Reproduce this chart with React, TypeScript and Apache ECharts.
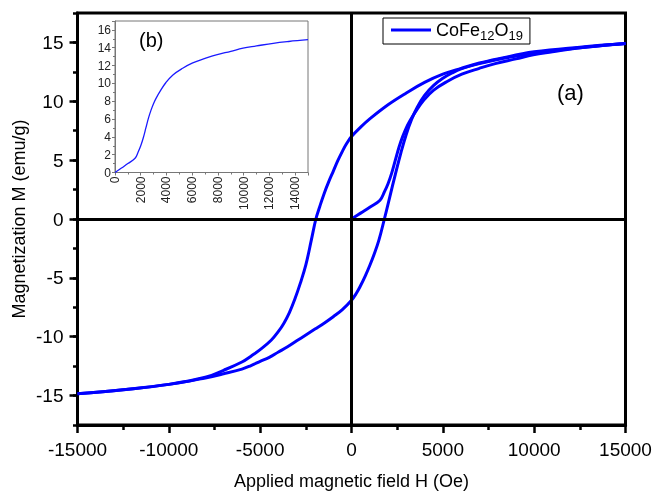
import React, { useEffect, useRef } from 'react';
import * as echarts from 'echarts';

// Descending-field branch (H from +15000 to -15000)
const upperH = [15000, 12500, 10000, 8000, 7000, 6000, 5000, 4000, 3000, 2000, 1000, 500, 0, -250, -500, -750, -1000, -1250, -1500, -1750, -1950, -2200, -2500, -2800, -3100, -3400, -3700, -4000, -4400, -5000, -5500, -6000, -7000, -8000, -10000, -12500, -15000];
const upperM = [14.9, 14.6, 14.2, 13.6, 13.25, 12.8, 12.3, 11.6, 10.7, 9.7, 8.5, 7.8, 7.0, 6.45, 5.75, 4.95, 4.05, 3.15, 2.15, 1.0, 0.0, -1.8, -3.9, -5.45, -6.8, -7.95, -8.85, -9.55, -10.3, -11.1, -11.65, -12.15, -12.85, -13.45, -14.05, -14.5, -14.85];

// Ascending-field branch (H from -15000 to +15000)
const lowerH = [-15000, -12500, -10000, -8000, -7000, -6000, -5500, -5000, -4500, -4000, -3500, -3000, -2500, -2000, -1500, -1000, -500, 0, 250, 500, 750, 1000, 1250, 1500, 1800, 2100, 2400, 2700, 3000, 3300, 3600, 4000, 4500, 5000, 5500, 6000, 7000, 8000, 10000, 12500, 15000];
const lowerM = [-14.85, -14.5, -14.05, -13.5, -13.15, -12.75, -12.45, -12.1, -11.75, -11.3, -10.85, -10.35, -9.85, -9.35, -8.85, -8.3, -7.7, -6.9, -6.35, -5.65, -4.85, -3.95, -2.95, -1.8, 0.0, 1.9, 3.8, 5.6, 7.2, 8.5, 9.5, 10.5, 11.35, 11.95, 12.4, 12.75, 13.2, 13.55, 14.1, 14.55, 14.9];

// Initial (virgin) magnetization curve, also shown in inset (b)
const virginH = [0, 500, 1000, 1560, 1800, 2000, 2200, 2400, 2600, 2800, 3000, 3200, 3500, 3960, 4500, 5260, 6040, 7000, 7870, 9000, 9950, 11000, 12300, 13500, 15000];
const virginM = [0, 0.5, 1.0, 1.6, 2.3, 3.0, 3.9, 5.0, 6.1, 7.0, 7.75, 8.35, 9.1, 10.1, 10.95, 11.7, 12.3, 12.8, 13.2, 13.6, 13.95, 14.2, 14.5, 14.7, 14.9];

const seriesName = 'CoFe12O19';

export default function App() {
  const ref = useRef<HTMLDivElement>(null);
  useEffect(() => {
    const chart = echarts.init(ref.current as HTMLDivElement, null, { renderer: 'svg' });
    const font = 'Liberation Sans, Arial, Helvetica, sans-serif';
    const zip = (a: number[], b: number[]) => a.map((x, i) => [x, b[i]]);
    const blue = '#0000ff';
    const mainLine = (data: number[][], extra: any = {}) => ({
      type: 'line',
      name: seriesName,
      xAxisIndex: 0,
      yAxisIndex: 0,
      data,
      symbol: 'none',
      smooth: 0.4,
      lineStyle: { color: blue, width: 3 },
      itemStyle: { color: blue },
      ...extra,
    });
    chart.setOption({
      animation: false,
      grid: [
        { left: 77.5, right: 33.5, top: 13, bottom: 68, show: true, borderColor: '#000', borderWidth: 3, outerBoundsMode: 'none', containLabel: false },
        { left: 115, right: 351, top: 21, bottom: 320.5, show: true, borderColor: '#777', borderWidth: 1, outerBoundsMode: 'none', containLabel: false },
        { left: 77.5, right: 33.5, top: 42.43, bottom: 97.43, show: false, outerBoundsMode: 'none', containLabel: false },
      ],
      legend: {
        data: [seriesName],
        left: 383,
        top: 18,
        orient: 'horizontal',
        icon: 'rect',
        itemWidth: 40,
        itemHeight: 3,
        itemGap: 5,
        padding: [3, 7, 2, 8],
        borderColor: '#000',
        borderWidth: 1,
        backgroundColor: '#fff',
        formatter: () => '{n|CoFe}{s|12}{n|O}{s|19}',
        textStyle: {
          color: '#000',
          fontFamily: font,
          rich: {
            n: { fontSize: 18, fontFamily: font, color: '#000', lineHeight: 24 },
            s: { fontSize: 13, fontFamily: font, color: '#000', lineHeight: 13, verticalAlign: 'bottom' },
          },
        },
      },
      xAxis: [
        {
          type: 'value', gridIndex: 0, min: -15000, max: 15000, interval: 5000,
          axisLine: { onZero: false, lineStyle: { color: '#000', width: 3 } },
          axisTick: { length: 8, lineStyle: { color: '#000', width: 2.5 } },
          minorTick: { show: true, splitNumber: 2, length: 5, lineStyle: { color: '#000', width: 2.5 } },
          splitLine: { show: false },
          minorSplitLine: { show: false },
          axisLabel: { formatter: (v: number) => String(v), fontSize: 19, color: '#000', fontFamily: font, margin: 15 },
          name: 'Applied magnetic field H (Oe)', nameLocation: 'middle', nameGap: 47,
          nameTextStyle: { fontSize: 18, color: '#000', fontFamily: font },
        },
        {
          type: 'value', gridIndex: 1, min: 0, max: 15000, interval: 2000,
          axisLine: { onZero: false, lineStyle: { color: '#777', width: 1 } },
          axisTick: { length: 3, lineStyle: { color: '#777', width: 1 } },
          minorTick: { show: true, splitNumber: 2, length: 2, lineStyle: { color: '#777', width: 1 } },
          splitLine: { show: false },
          axisLabel: { formatter: (v: number) => String(v), fontSize: 12, color: '#222', fontFamily: font, rotate: 90, margin: 4, showMaxLabel: false },
        },
        { type: 'value', gridIndex: 2, min: -15000, max: 15000, show: false },
      ],
      yAxis: [
        {
          type: 'value', gridIndex: 0, min: -17.5, max: 17.5, interval: 2.5,
          axisLine: { onZero: false, lineStyle: { color: '#000', width: 3 } },
          axisTick: { length: 4.5, lineStyle: { color: '#000', width: 2.5 } },
          splitLine: { show: false },
          axisLabel: { show: false },
          name: 'Magnetization M (emu/g)', nameLocation: 'middle', nameGap: 50, nameRotate: 90,
          nameTextStyle: { fontSize: 18, color: '#000', fontFamily: font },
        },
        {
          type: 'value', gridIndex: 1, min: 0, max: 17, interval: 2,
          axisLine: { onZero: false, lineStyle: { color: '#777', width: 1 } },
          axisTick: { length: 3, lineStyle: { color: '#777', width: 1 } },
          minorTick: { show: true, splitNumber: 2, length: 2, lineStyle: { color: '#777', width: 1 } },
          splitLine: { show: false },
          axisLabel: { fontSize: 12, color: '#222', fontFamily: font, margin: 4, showMaxLabel: false },
        },
        {
          type: 'value', gridIndex: 2, min: -15, max: 15, interval: 5,
          axisLine: { show: false, onZero: false },
          axisTick: { length: 8, lineStyle: { color: '#000', width: 2.5 } },
          splitLine: { show: false },
          axisLabel: { formatter: (v: number) => String(v), fontSize: 19, color: '#000', fontFamily: font, margin: 14 },
        },
      ],
      graphic: [
        { type: 'text', left: 557, top: 81, style: { text: '(a)', fontSize: 22, fontFamily: font, fill: '#000' } },
        { type: 'text', left: 139, top: 30, style: { text: '(b)', fontSize: 20, fontFamily: font, fill: '#000' } },
      ],
      series: [
        mainLine(zip(upperH, upperM), {
          markLine: {
            silent: true,
            symbol: ['none', 'none'],
            label: { show: false },
            lineStyle: { color: '#000', width: 3, type: 'solid' },
            data: [{ xAxis: 0 }, { yAxis: 0 }],
          },
        }),
        mainLine(zip(lowerH, lowerM)),
        mainLine(zip(virginH, virginM)),
        {
          type: 'line', name: 'inset', xAxisIndex: 1, yAxisIndex: 1,
          data: zip(virginH, virginM), symbol: 'none', smooth: 0.4,
          lineStyle: { color: '#1a1aff', width: 1.3 },
        },
      ],
    });
    return () => chart.dispose();
  }, []);
  return <div ref={ref} style={{ position: 'fixed', left: 0, top: 0, width: 659, height: 493 }} />;
}
